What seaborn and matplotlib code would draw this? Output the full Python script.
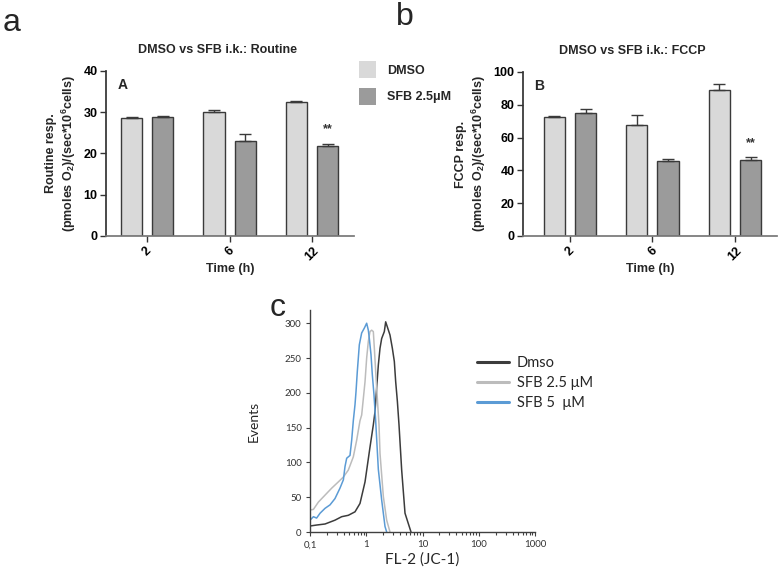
import numpy as np
import pandas as pd
import matplotlib
matplotlib.use("Agg")
import matplotlib.pyplot as plt
from matplotlib.patches import Patch
from matplotlib.lines import Line2D
from matplotlib.ticker import FixedLocator, LogLocator, NullFormatter
import seaborn as sns

sns.set_theme(style="white")
plt.rcParams["font.family"] = ["Liberation Sans", "DejaVu Sans"]
plt.rcParams["mathtext.default"] = "regular"

# ----- panels a / b : respiration (moyenne + erreur) -----
temps = ["2", "6", "12"]
groupes = ["DMSO", "SFB 2.5\u03bcM"]

routine_dmso = [28.7, 30.1, 32.4]
routine_dmso_err = [0.1, 0.4, 0.4]
routine_sfb = [28.9, 23.1, 21.7]
routine_sfb_err = [0.15, 1.6, 0.7]

fccp_dmso = [72.6, 67.5, 89.3]
fccp_dmso_err = [0.3, 6.0, 3.3]
fccp_sfb = [75.3, 45.5, 46.6]
fccp_sfb_err = [2.2, 1.6, 1.6]

# ----- panel c : histogrammes JC-1 (FL-2) -----
echantillons = ["Dmso", "SFB 2.5 \u03bcM", "SFB 5  \u03bcM"]
fl_dmso = [0.100, 0.131, 0.185, 0.278, 0.366, 0.480, 0.631, 0.774, 0.951, 1.166,
           1.336, 1.431, 1.531, 1.640, 1.756, 1.880, 2.096, 2.215, 2.644, 2.911,
           3.157, 3.336, 3.573, 3.822, 4.264, 4.887, 5.600, 6.250]
ev_dmso = [8.6, 10, 11.5, 17, 22, 24, 29, 41, 72, 122,
           154, 173, 207, 240, 264, 278, 288, 302, 283, 264,
           245, 216, 188, 154, 89, 27, 12, 0]
fl_sfb25 = [0.100, 0.115, 0.141, 0.185, 0.243, 0.319, 0.392, 0.480, 0.589, 0.676,
            0.774, 0.829, 0.888, 0.951, 1.017, 1.089, 1.166, 1.248, 1.336, 1.393,
            1.470, 1.574, 1.686, 1.756, 2.013, 2.307, 2.644]
ev_sfb25 = [31.6, 32.5, 43, 53, 63, 72, 79, 89, 108, 132,
            160, 168, 192, 216, 250, 274, 288, 290, 288, 264,
            231, 192, 154, 113, 51, 17, 0]
fl_sfb5 = [0.100, 0.115, 0.131, 0.151, 0.185, 0.227, 0.278, 0.341, 0.392, 0.419,
           0.449, 0.514, 0.551, 0.589, 0.631, 0.658, 0.694, 0.723, 0.753, 0.829,
           0.925, 1.017, 1.089, 1.134, 1.214, 1.282, 1.373, 1.470, 1.640, 1.880,
           2.154, 2.307]
ev_sfb5 = [17, 22, 20, 27, 34, 39, 48, 63, 75, 94,
           106, 110, 132, 160, 183, 202, 231, 250, 269, 286,
           293, 300, 290, 278, 255, 226, 197, 160, 90, 46,
           8, 0]

c_dmso = "#d9d9d9"
c_sfb = "#9b9b9b"
c_bord = "#3a3a3a"

fig = plt.figure(figsize=(7.81, 5.75), dpi=100)
ax_a = fig.add_axes([106/781, 1-236/575, 248/781, 165/575])
ax_b = fig.add_axes([523/781, 1-236/575, 254/781, 164/575])
ax_c = fig.add_axes([310/781, 1-532/575, 225/781, 222/575])


def panel_barres(ax, v_dmso, e_dmso, v_sfb, e_sfb, ymax, pas, titre, ylab,
                 lettre, xlim, xtitre):
    d = pd.DataFrame({"temps": temps * 2,
                      "groupe": [groupes[0]] * 3 + [groupes[1]] * 3,
                      "val": v_dmso + v_sfb})
    sns.barplot(data=d, x="temps", y="val", hue="groupe", order=temps,
                hue_order=groupes, palette=[c_dmso, c_sfb], width=0.76,
                gap=0.32, edgecolor=c_bord, linewidth=1, errorbar=None,
                legend=False, ax=ax)
    # barres d'erreur vers le haut seulement
    for cont, err in zip(ax.containers, [e_dmso, e_sfb]):
        xs = [b.get_x() + b.get_width() / 2 for b in cont]
        hs = [b.get_height() for b in cont]
        ax.errorbar(xs, hs, yerr=[np.zeros(len(err)), err], fmt="none",
                    ecolor=c_bord, elinewidth=1, capsize=4, capthick=1)
    # ** au-dessus de SFB 12h
    ax.text(2.19, v_sfb[2] + e_sfb[2] + ymax * 0.085, "**", ha="center",
            va="center", fontsize=9, fontweight="bold", color="#333333")
    ax.text(0.045, 0.915, lettre, transform=ax.transAxes, fontsize=10,
            fontweight="bold", va="center", ha="left")
    ax.set_xlim(*xlim)
    ax.set_ylim(0, ymax)
    ax.set_yticks(np.arange(0, ymax + 1, pas))
    ax.set_xlabel("Time (h)", fontsize=9, fontweight="bold", labelpad=0)
    ax.set_ylabel(ylab, fontsize=9, fontweight="bold", labelpad=4)
    ax.set_title(titre, fontsize=9, fontweight="bold", pad=13, x=xtitre)
    sns.despine(ax=ax)
    ax.spines["left"].set_color("#333333")
    ax.spines["bottom"].set_color("#777777")
    ax.tick_params(axis="both", direction="out", length=4, width=1,
                   colors="#333333", labelcolor="black", labelsize=9,
                   bottom=True, left=True, pad=2)
    plt.setp(ax.get_yticklabels(), fontweight="bold")
    plt.setp(ax.get_xticklabels(), fontweight="bold", rotation=45,
             ha="center")


panel_barres(ax_a, routine_dmso, routine_dmso_err, routine_sfb, routine_sfb_err,
             40, 10, "DMSO vs SFB i.k.: Routine",
             "Routine resp.\n(pmoles O$_2$)/(sec*10$^6$cells)", "A",
             (-0.5, 2.51), 0.45)
panel_barres(ax_b, fccp_dmso, fccp_dmso_err, fccp_sfb, fccp_sfb_err,
             100, 20, "DMSO vs SFB i.k.: FCCP",
             "FCCP resp.\n(pmoles O$_2$)/(sec*10$^6$cells)", "B",
             (-0.57, 2.51), 0.43)

# legende commune a / b (carres sans bord)
poignees = [Patch(facecolor=c_dmso, edgecolor="none"),
            Patch(facecolor=c_sfb, edgecolor="none")]
leg = fig.legend(poignees, groupes, loc="upper left",
                 bbox_to_anchor=(359/781, 1-61/575), frameon=False,
                 handlelength=1.36, handleheight=1.7, labelspacing=0.8,
                 handletextpad=0.9, borderpad=0, borderaxespad=0,
                 prop={"size": 9, "weight": "bold"})

# ----- panel c -----
dc = pd.DataFrame({
    "fl": fl_dmso + fl_sfb25 + fl_sfb5,
    "events": ev_dmso + ev_sfb25 + ev_sfb5,
    "echantillon": [echantillons[0]] * len(fl_dmso)
                   + [echantillons[1]] * len(fl_sfb25)
                   + [echantillons[2]] * len(fl_sfb5),
})
couleurs_c = ["#3c3c3c", "#bcbcbc", "#5b9bd5"]
sns.lineplot(data=dc, x="fl", y="events", hue="echantillon",
             hue_order=echantillons, palette=couleurs_c, estimator=None,
             sort=False, linewidth=1.1, legend=False, ax=ax_c)
ax_c.set_xscale("log")
ax_c.set_xlim(0.1, 1000)
ax_c.set_ylim(0, 319)
ax_c.xaxis.set_major_locator(FixedLocator([0.1, 1, 10, 100, 1000]))
ax_c.set_xticklabels(["0,1", "1", "10", "100", "1000"])
ax_c.xaxis.set_minor_locator(LogLocator(base=10, subs=np.arange(2, 10)))
ax_c.xaxis.set_minor_formatter(NullFormatter())
ax_c.set_yticks(np.arange(0, 301, 50))
sns.despine(ax=ax_c)
for s in ["left", "bottom"]:
    ax_c.spines[s].set_color("#404040")
    ax_c.spines[s].set_linewidth(1)
ax_c.tick_params(axis="both", which="major", direction="out", length=3,
                 width=0.8, colors="#404040", labelcolor="#333333",
                 labelsize=7, bottom=True, left=True, pad=3)
ax_c.tick_params(axis="x", which="minor", direction="out", length=2,
                 width=0.8, colors="#404040", bottom=True)
for t in ax_c.get_xticklabels() + ax_c.get_yticklabels():
    t.set_family(["Lato", "DejaVu Sans"])
ax_c.set_xlabel("FL-2 (JC-1)", fontsize=11, family=["Lato", "DejaVu Sans"],
                labelpad=2)
ax_c.set_ylabel("Events", fontsize=10, family=["Lato", "DejaVu Sans"],
                labelpad=18)

lignes = [Line2D([], [], color=c, lw=2.2) for c in couleurs_c]
fig.legend(lignes, echantillons, loc="upper left",
           bbox_to_anchor=(477/781, 1-356/575), frameon=False,
           handlelength=2.2, labelspacing=0.42, handletextpad=0.55,
           borderpad=0, borderaxespad=0,
           prop={"size": 10.5, "family": ["Lato", "DejaVu Sans"]})

# lettres des panneaux
fig.text(3/781, 1-31/575, "a", fontsize=23, va="baseline")
fig.text(396/781, 1-25/575, "b", fontsize=23, va="baseline")
fig.text(270/781, 1-316/575, "c", fontsize=23, va="baseline")

fig.savefig("out.png", dpi=100, facecolor="white")
